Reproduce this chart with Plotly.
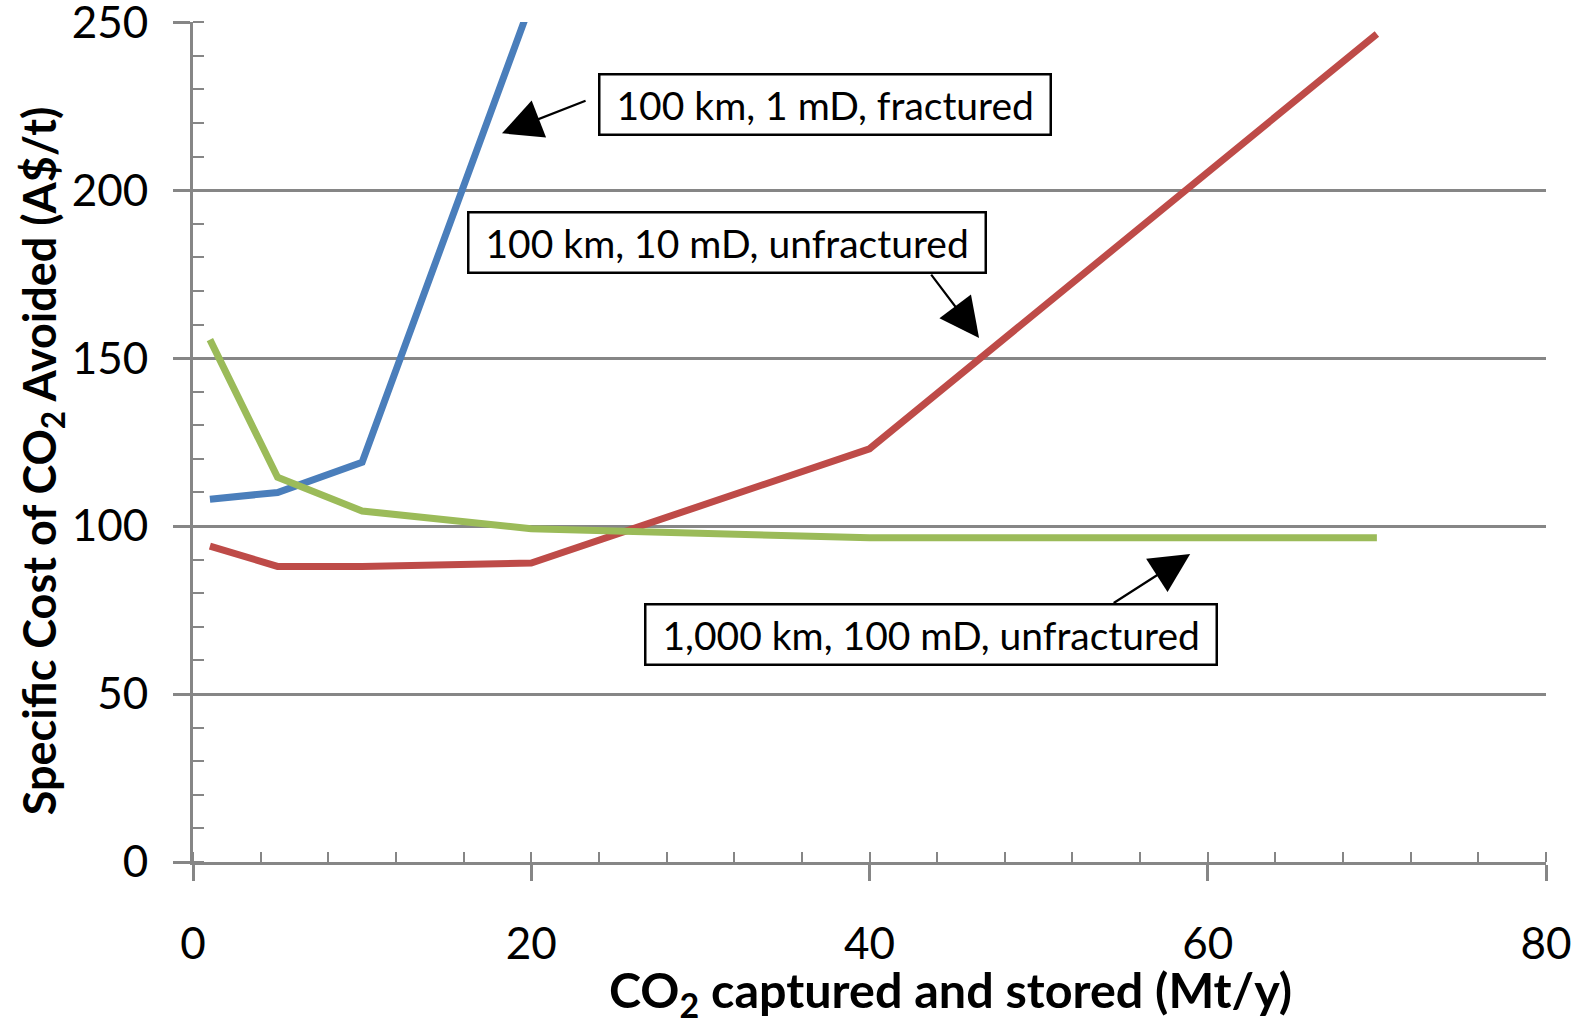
import plotly.graph_objects as go

# Data
x_blue = [1, 5, 10, 20]
y_blue = [108, 110, 119, 256]
x_red = [1, 5, 10, 20, 40, 70]
y_red = [94, 88, 88, 89, 123, 246.5]
x_green = [1, 5, 10, 20, 40, 70]
y_green = [155.5, 114.5, 104.5, 99.2, 96.5, 96.5]

labels = ["100 km, 1 mD, fractured", "100 km, 10 mD, unfractured", "1,000 km, 100 mD, unfractured"]
colors = ["#4A7EBB", "#BE4B48", "#9BBB59"]

FONT = "Lato"
GRID = "#868686"
NB = "\u00a0"

fig = go.Figure()
for xs, ys, c, name in [(x_blue, y_blue, colors[0], labels[0]),
                        (x_red, y_red, colors[1], labels[1]),
                        (x_green, y_green, colors[2], labels[2])]:
    fig.add_trace(go.Scatter(x=xs, y=ys, mode="lines", name=name,
                             line=dict(color=c, width=7), showlegend=False))

# Text boxes
box_pos = [(37.35, 225.4), (31.58, 184.5), (43.64, 67.6)]
for (bx, by), t in zip(box_pos, labels):
    fig.add_annotation(x=bx, y=by, xref="x", yref="y", text=NB + t + NB, showarrow=False,
                       font=dict(family=FONT, size=39, color="black"),
                       bgcolor="white", bordercolor="black", borderwidth=2.5,
                       borderpad=6)

# Arrows (tail -> head)
arrows = [((23.3, 226.8), (18.27, 216.9)),
          ((43.58, 175.3), (46.48, 156.0)),
          ((54.35, 76.8), (58.96, 91.7))]
for (tx, ty), (hx, hy) in arrows:
    fig.add_annotation(x=hx, y=hy, ax=tx, ay=ty, xref="x", yref="y",
                       axref="x", ayref="y", text="", showarrow=True,
                       arrowhead=2, arrowsize=3.6, arrowwidth=2.2,
                       arrowcolor="black")

# Axis titles
fig.add_annotation(x=0.560, y=-0.155, xref="paper", yref="paper",
                   text="CO<sub>2</sub> captured and stored (Mt/y)", showarrow=False,
                   font=dict(family=FONT, size=48.5, color="black", weight="bold"),
                   xanchor="center", yanchor="middle")
fig.add_annotation(x=-0.1116, y=0.477, xref="paper", yref="paper",
                   text="Specific Cost of CO<sub>2</sub> Avoided (A$/t)", showarrow=False,
                   textangle=-90,
                   font=dict(family=FONT, size=45, color="black", weight="bold"),
                   xanchor="center", yanchor="middle")

fig.update_layout(
    width=1585, height=1020,
    margin=dict(l=193, r=39, t=22, b=158, autoexpand=False),
    paper_bgcolor="white", plot_bgcolor="white",
    font=dict(family=FONT, color="black"),
    xaxis=dict(range=[0, 80], tickvals=[0, 20, 40, 60, 80], automargin=False,
               showgrid=False, zeroline=False,
               showline=True, linecolor=GRID, linewidth=3,
               ticks="outside", ticklen=16, tickwidth=2.5, tickcolor=GRID,
               tickfont=dict(family=FONT, size=44, color="black"),
               ticklabelstandoff=25, ticklabeloverflow="allow",
               minor=dict(dtick=4, tick0=0, ticks="inside", ticklen=10,
                          tickwidth=2, tickcolor=GRID, showgrid=False)),
    yaxis=dict(range=[0, 250.05], tickvals=[0, 50, 100, 150, 200, 250], automargin=False,
               showgrid=True, gridcolor=GRID, gridwidth=2.5, zeroline=False,
               showline=True, linecolor=GRID, linewidth=3,
               ticks="outside", ticklen=17, tickwidth=2.5, tickcolor=GRID,
               tickfont=dict(family=FONT, size=44, color="black"),
               ticklabelstandoff=16, ticklabeloverflow="allow",
               minor=dict(dtick=10, tick0=0, ticks="inside", ticklen=11,
                          tickwidth=2, tickcolor=GRID, showgrid=False)),
)

fig.write_html("out.html", config={"displayModeBar": False},
               post_script="document.body.style.margin='0';document.body.style.overflow='hidden';")
